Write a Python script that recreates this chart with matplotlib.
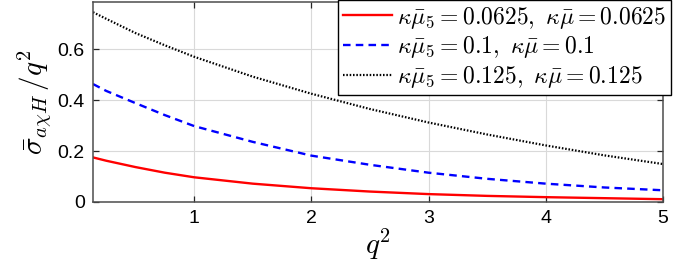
import matplotlib
matplotlib.use("Agg")
import matplotlib.pyplot as plt

plt.rcParams["mathtext.fontset"] = "cm"
plt.rcParams["font.family"] = ["Liberation Sans", "DejaVu Sans"]

# values
q2 = [0.137, 0.25, 0.5, 0.75, 1.0, 1.5, 2.0, 2.5, 3.0, 3.5, 4.0, 4.5, 5.0]
sigma_0625 = [0.175, 0.162, 0.137, 0.115, 0.097, 0.072, 0.054, 0.041, 0.031, 0.024, 0.019, 0.015, 0.011]
sigma_1 = [0.463, 0.436, 0.388, 0.341, 0.298, 0.236, 0.182, 0.146, 0.115, 0.091, 0.072, 0.057, 0.046]
sigma_125 = [0.745, 0.719, 0.663, 0.615, 0.570, 0.492, 0.425, 0.365, 0.312, 0.265, 0.222, 0.183, 0.149]
labels = [r"$\kappa\bar{\mu}_5=0.0625,\ \kappa\bar{\mu}=0.0625$",
          r"$\kappa\bar{\mu}_5=0.1,\ \kappa\bar{\mu}=0.1$",
          r"$\kappa\bar{\mu}_5=0.125,\ \kappa\bar{\mu}=0.125$"]
xticks = [1, 2, 3, 4, 5]
yticks = [0, 0.2, 0.4, 0.6]
yticklabels = ["0", "0.2", "0.4", "0.6"]

fig = plt.figure(figsize=(6.85, 2.73), dpi=100)
ax = fig.add_axes([93 / 685, 1 - 202 / 273, 570 / 685, 200 / 273])

h1, = ax.plot(q2, sigma_0625, color="#ff0000", lw=1.7, ls="-")
h2, = ax.plot(q2, sigma_1, color="#0000ff", lw=1.7, ls=(0, (3.2, 2.2)))
h3, = ax.plot(q2, sigma_125, color="black", lw=1.6, ls=(0, (0.7, 0.8)))

ax.set_xlim(0.137, 5.0)
ax.set_ylim(0, 0.785)
ax.set_xticks(xticks)
ax.set_yticks(yticks)
ax.set_yticklabels(yticklabels)
ax.tick_params(direction="in", top=True, right=True, labelsize=14,
               length=4, width=0.9, color="#262626", pad=6)
ax.grid(True, color="#d9d9d9", lw=0.8)
ax.set_axisbelow(True)
for s in ax.spines.values():
    s.set_color("#4d4d4d")
    s.set_linewidth(1.1)

ax.set_ylabel(r"$\bar{\sigma}_{a\chi H}\,/q^2$", fontsize=21, labelpad=3)
ax.set_xlabel(r"$q^2$", fontsize=21, labelpad=0)

leg = fig.legend([h1, h2, h3], labels, loc="upper left",
                 bbox_to_anchor=(338 / 685, 1.0), fontsize=17,
                 frameon=True, fancybox=False, edgecolor="black",
                 framealpha=1, borderaxespad=0, borderpad=0.2,
                 handlelength=2.1, handletextpad=0.2, labelspacing=0.15)
leg.get_frame().set_linewidth(1.0)

fig.savefig("out.png", dpi=100)
